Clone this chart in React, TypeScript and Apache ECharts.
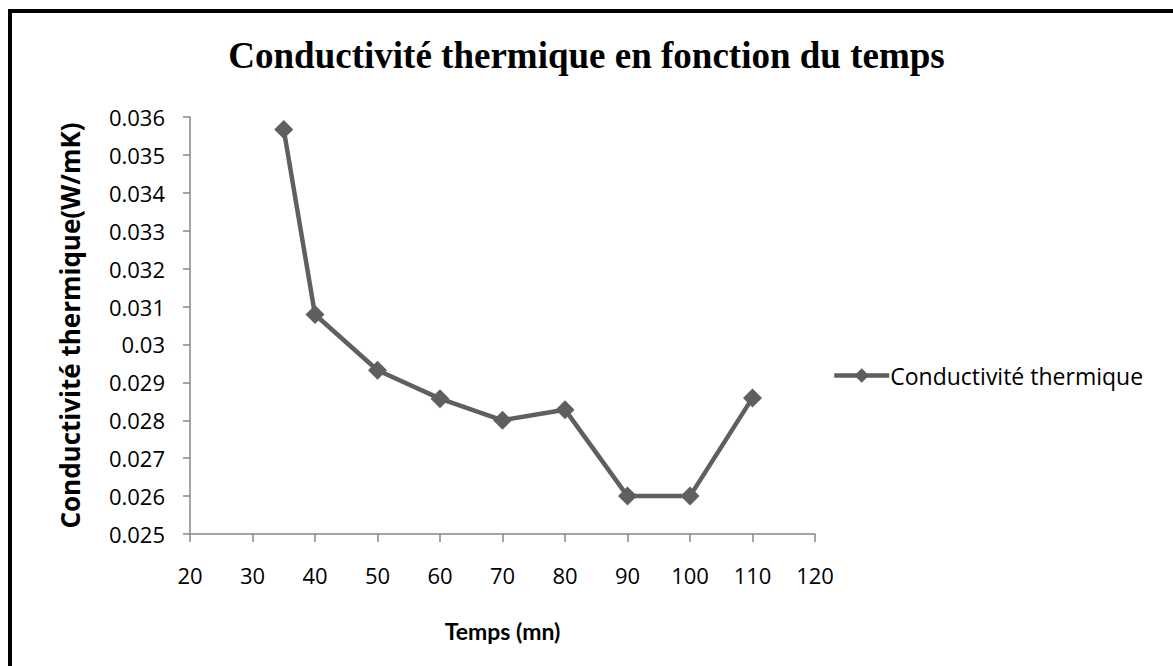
import React, { useEffect, useRef } from "react";
import * as echarts from "echarts";

const titleText = "Conductivité thermique en fonction du temps";
const seriesName = "Conductivité thermique";
const xAxisName = "Temps (mn)";
const yAxisName = "Conductivité thermique(W/mK)";
const timeValues = [35, 40, 50, 60, 70, 80, 90, 100, 110];
const conductivityValues = [0.03567, 0.03079, 0.02932, 0.02857, 0.028, 0.02828, 0.026, 0.026, 0.02859];

const labelFont = "'Open Sans', 'Liberation Sans', sans-serif";
const nameFont = "Lato, 'Open Sans', sans-serif";

export default function App() {
  const ref = useRef<HTMLDivElement>(null);
  useEffect(() => {
    if (!ref.current) return;
    const chart = echarts.init(ref.current, null, { renderer: "svg" });
    const data = timeValues.map((t, i) => [t, conductivityValues[i]]);
    chart.setOption({
      animation: false,
      backgroundColor: "#ffffff",
      title: {
        text: titleText,
        left: "center",
        top: 32,
        textStyle: {
          fontFamily: "'Liberation Serif', 'Times New Roman', serif",
          fontWeight: "bold",
          fontSize: 37,
          color: "#000000",
        },
      },
      legend: {
        data: [{ name: seriesName }],
        left: 827,
        top: 359,
        itemWidth: 55,
        itemHeight: 18,
        itemGap: 0,
        lineStyle: { width: 4.5 },
        textStyle: { fontFamily: labelFont, fontSize: 23, color: "#000000", padding: [0, 0, 0, -4] },
      },
      grid: { left: 190, top: 117, width: 625, height: 417, containLabel: false },
      xAxis: {
        type: "value",
        min: 20,
        max: 120,
        interval: 10,
        name: xAxisName,
        nameLocation: "middle",
        nameGap: 85,
        nameTextStyle: { fontFamily: nameFont, fontWeight: "bold", fontSize: 23, color: "#000000" },
        axisLine: { show: true, lineStyle: { color: "#878787", width: 1.5 } },
        axisTick: { show: true, length: 8, lineStyle: { color: "#878787", width: 1.5 } },
        axisLabel: { margin: 30, fontFamily: labelFont, fontSize: 22, color: "#000000" },
        splitLine: { show: false },
      },
      yAxis: {
        type: "value",
        min: 0.025,
        max: 0.036,
        interval: 0.001,
        name: yAxisName,
        nameLocation: "middle",
        nameGap: 107,
        nameRotate: 90,
        nameTextStyle: { fontFamily: labelFont, fontWeight: "bold", fontSize: 26, color: "#000000" },
        axisLine: { show: true, lineStyle: { color: "#878787", width: 1.5 } },
        axisTick: { show: true, length: 7, lineStyle: { color: "#878787", width: 1.5 } },
        axisLabel: {
          margin: 25,
          fontFamily: labelFont,
          fontSize: 22,
          color: "#000000",
          formatter: (v: number) => String(Number(v.toFixed(4))),
        },
        splitLine: { show: false },
      },
      series: [
        {
          name: seriesName,
          type: "line",
          data,
          symbol: "diamond",
          symbolSize: 19,
          showAllSymbol: true,
          lineStyle: { color: "#5f5f5f", width: 4.5 },
          itemStyle: { color: "#5f5f5f" },
        },
      ],
      graphic: [
        { type: "line", shape: { x1: 8, y1: 11, x2: 1200, y2: 11 }, style: { stroke: "#000000", lineWidth: 4 } },
        { type: "line", shape: { x1: 10, y1: 9, x2: 10, y2: 700 }, style: { stroke: "#000000", lineWidth: 4 } },
      ],
    });
    return () => chart.dispose();
  }, []);
  return (
    <div
      ref={ref}
      style={{ position: "fixed", left: 0, top: 0, width: 1173, height: 666, background: "#ffffff" }}
    />
  );
}
